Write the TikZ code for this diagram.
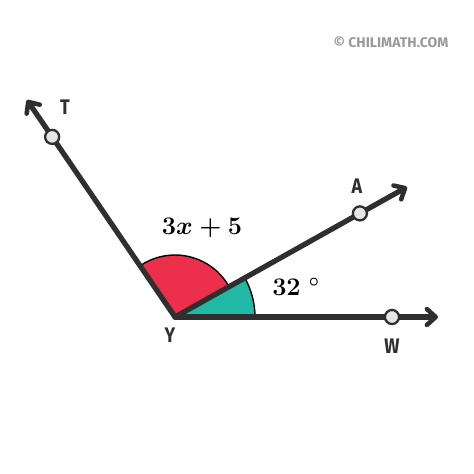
\documentclass[tikz,border=0pt]{standalone}
\usepackage{amsmath, amssymb}
\usepackage{fontspec}
\newfontfamily\labelfont{Fira Sans}
\usetikzlibrary{positioning, arrows.meta, calc}

\definecolor{raycol}{HTML}{2F2F2F}
\definecolor{angred}{HTML}{EC2F4B}
\definecolor{angteal}{HTML}{22B8A6}
\definecolor{dotfill}{HTML}{E6E6E6}

\tikzset{
    ray/.style={raycol, line width=3pt, line cap=round,
        -{Straight Barb[length=5pt, width=9pt, line width=2.6pt, round]}},
    dot/.style={circle, draw=raycol, fill=dotfill, line width=1.3pt,
        minimum size=8pt, inner sep=0pt},
    ptlabel/.style={font=\labelfont\bfseries\large, text=raycol, xscale=0.85, transform shape},
    anglabel/.style={font=\fontsize{14}{16}\selectfont\boldmath, text=black},
    sector/.style={draw=black, line width=0.8pt}
}

\begin{document}
\begin{tikzpicture}[x=0.02cm, y=0.02cm]
        \useasboundingbox (0,0) rectangle (474,474);
        \coordinate (Y) at (175,157);
        \coordinate (T) at (27,374);
        \coordinate (A) at (407,287);
        \coordinate (W) at (438,157);
        % angle sectors
        \filldraw[sector, fill=angred] (Y) -- ++(29.3:62)
            arc[start angle=29.3, end angle=124.3, radius=62] -- cycle;
        \filldraw[sector, fill=angteal] (Y) -- ++(0:80)
            arc[start angle=0, end angle=29.3, radius=80] -- cycle;
        % rays
        \foreach \r in {T,A,W}{%
                \draw[ray] (Y) -- (\r);
            }
        \node[dot] (pT) at ($(Y)!0.83!(T)$) {};
        \node[dot] (pA) at ($(Y)!0.797!(A)$) {};
        \node[dot] (pW) at (392,157) {};
        \node[ptlabel] (lT) at (65,367) {T};
        \node[ptlabel] (lA) at (357,288) {A};
        \node[ptlabel] (lW) at (392,128) {W};
        \node[ptlabel] (lY) at (170,139) {Y};
        \node[anglabel] (xlab) at (202,246) {$3x+5$};
        \node[anglabel] (dlab) at (296,187) {$32\ ^{\circ}$};
        \node[font=\labelfont\footnotesize\bfseries, text=black!40] (copy) at (391,432) {© CHILIMATH.COM};
    \end{tikzpicture}
\end{document}
